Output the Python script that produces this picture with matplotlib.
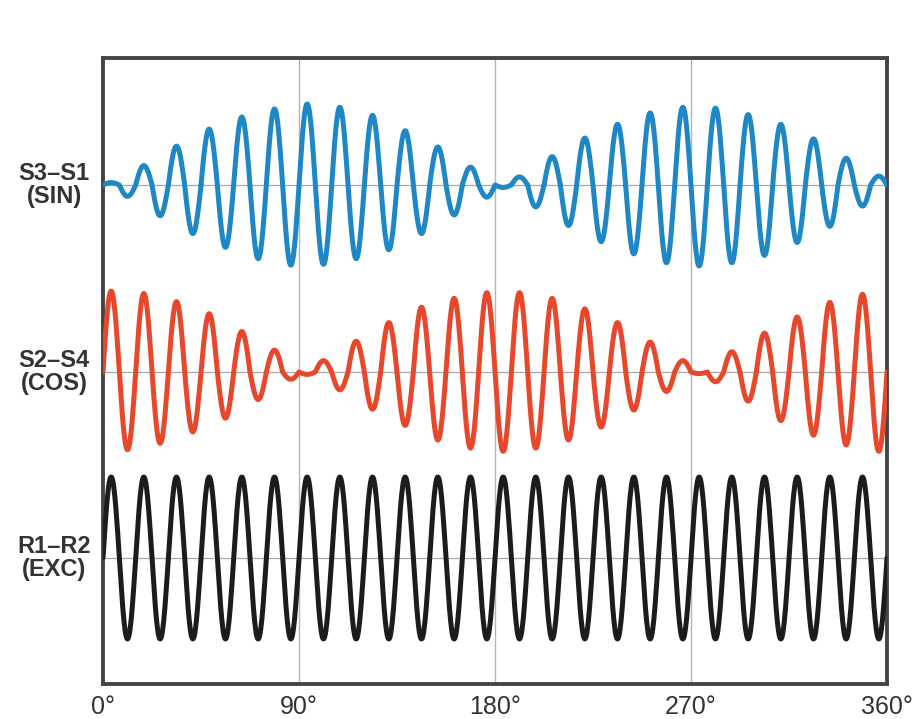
import numpy as np
import matplotlib
matplotlib.use("Agg")
import matplotlib.pyplot as plt
import matplotlib.transforms as mtransforms

# ---- data ----
tick_positions = [0, 90, 180, 270, 360]
tick_labels = ["0°", "90°", "180°", "270°", "360°"]
channel_labels = ["S3–S1\n(SIN)", "S2–S4\n(COS)", "R1–R2\n(EXC)"]

carrier_cycles = 24  # excitation cycles across 0..360°

# signed peak amplitude of each carrier half-cycle (48 half-cycles)
sin_peaks = [0.03, 0.14, 0.24, 0.38, 0.48, 0.60, 0.69, 0.77, 0.84, 0.91, 0.94, 0.99,
             1.00, 0.98, 0.96, 0.91, 0.86, 0.80, 0.67, 0.60, 0.47, 0.37, 0.22, 0.15,
             -0.03, -0.10, -0.27, -0.35, -0.50, -0.58, -0.70, -0.75, -0.85, -0.89, -0.96, -0.96,
             -1.00, -0.95, -0.96, -0.87, -0.87, -0.75, -0.71, -0.57, -0.51, -0.33, -0.26, -0.11]
cos_peaks = [1.00, 0.96, 0.97, 0.88, 0.87, 0.74, 0.72, 0.57, 0.50, 0.34, 0.27, 0.09,
             -0.03, -0.14, -0.22, -0.38, -0.46, -0.61, -0.66, -0.80, -0.84, -0.91, -0.94, -0.98,
             -0.98, -0.98, -0.94, -0.91, -0.84, -0.78, -0.68, -0.61, -0.47, -0.37, -0.24, -0.14,
             -0.02, 0.12, 0.25, 0.36, 0.48, 0.60, 0.68, 0.78, 0.86, 0.90, 0.96, 0.98]
exc_peaks = [1.00, 1.00, 1.00, 1.00, 1.00, 1.00, 1.00, 1.00, 1.00, 1.00, 1.00, 1.00,
             1.00, 1.00, 1.00, 1.00, 1.00, 1.00, 1.00, 1.00, 1.00, 1.00, 1.00, 1.00,
             1.00, 1.00, 1.00, 1.00, 1.00, 1.00, 1.00, 1.00, 1.00, 1.00, 1.00, 1.00,
             1.00, 1.00, 1.00, 1.00, 1.00, 1.00, 1.00, 1.00, 1.00, 1.00, 1.00, 1.00]

# ---- layout / style ----
W, H = 916, 719
fig = plt.figure(figsize=(W / 100, H / 100), dpi=100)
ax_left, ax_right, ax_top, ax_bot = 103, 887, 58, 684
ax = fig.add_axes([ax_left / W, 1 - ax_bot / H, (ax_right - ax_left) / W, (ax_bot - ax_top) / H])

amp_px = 81.0
ylim_top = (ax_bot - ax_top) / amp_px
offsets = [(ax_bot - 185) / amp_px, (ax_bot - 372) / amp_px, (ax_bot - 558) / amp_px]
colors = ["#1e87c5", "#e8472c", "#1c1c1c"]


def waveform(peaks):
    half = 360.0 / (2 * carrier_cycles)
    xs, ys = [], []
    for k, a in enumerate(peaks):
        t = np.linspace(k * half, (k + 1) * half, 30)
        xs.append(t)
        ys.append(a * np.sin(np.deg2rad(t * carrier_cycles)))
    return np.concatenate(xs), np.concatenate(ys)


# grid lines
for gx in [90, 180, 270]:
    ax.axvline(gx, color="#b5b5b5", lw=1.0, zorder=1)
for off in offsets:
    ax.axhline(off, color="#a8a8a8", lw=0.9, zorder=1)

for peaks, off, c in zip([sin_peaks, cos_peaks, exc_peaks], offsets, colors):
    x, y = waveform(peaks)
    ax.plot(x, y + off, color=c, lw=3.6, solid_capstyle="round", solid_joinstyle="round", zorder=3)

ax.set_xlim(0, 360)
ax.set_ylim(0, ylim_top)
ax.set_yticks([])
ax.set_xticks(tick_positions)
ax.set_xticklabels(tick_labels, fontsize=18, color="#333333", family=["Liberation Sans Narrow", "Liberation Sans"])
ax.tick_params(axis="x", length=0, pad=8)
for s in ax.spines.values():
    s.set_color("#454545")
    s.set_linewidth(2.8)

trans = mtransforms.blended_transform_factory(fig.transFigure, ax.transData)
for lab, off in zip(channel_labels, offsets):
    ax.text(54 / W, off, lab, transform=trans, ha="center", va="center",
            fontsize=17, fontweight="bold", color="#333333", linespacing=1.05,
            family=["Liberation Sans Narrow", "Liberation Sans"])

fig.savefig("out.png", dpi=100)
